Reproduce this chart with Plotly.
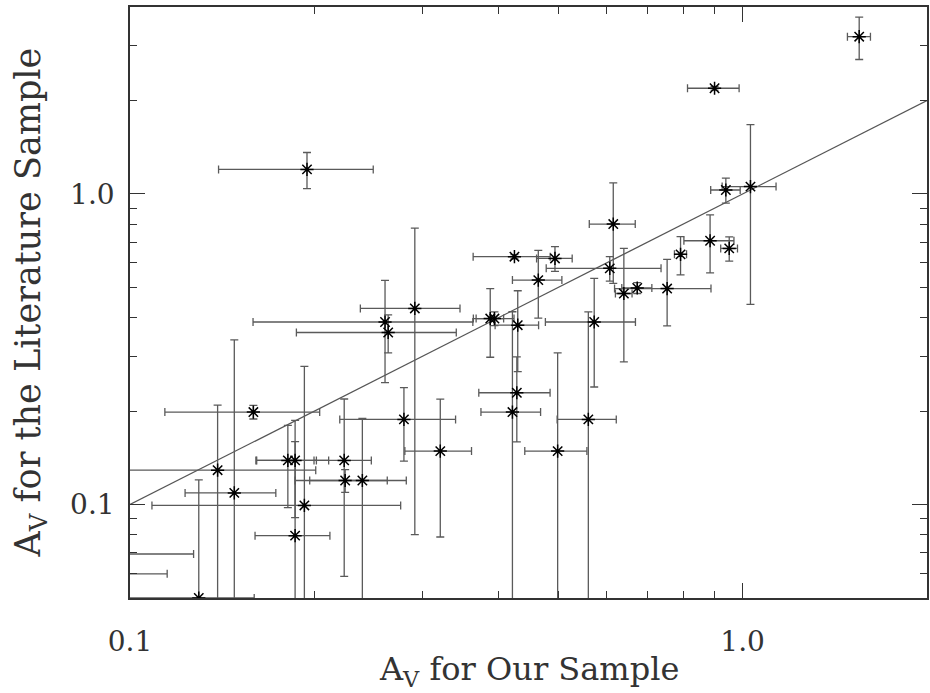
import plotly.graph_objects as go

# A_V for our sample (x) with uncertainties, and A_V from the literature (y)
av_ours = [1.55, 0.90, 0.1945, 1.03, 0.939, 0.951, 0.885, 0.792, 0.615, 0.607,
           0.640, 0.673, 0.753, 0.5725, 0.560, 0.499, 0.428, 0.421, 0.280, 0.321,
           0.159, 0.139, 0.148, 0.1295, 0.090, 0.080, 0.181, 0.186, 0.2237, 0.2245,
           0.2395, 0.1926, 0.186, 0.2608, 0.2917, 0.2639, 0.4295, 0.3873, 0.3935,
           0.4242, 0.494, 0.464]
err_ours = [0.067, 0.087, 0.055, 0.104, 0.052, 0.030, 0.083, 0.018, 0.053, 0.129,
            0.020, 0.038, 0.135, 0.096, 0.062, 0.058, 0.057, 0.047, 0.060, 0.040,
            0.045, 0.062, 0.025, 0.030, 0.037, 0.035, 0.0205, 0.025, 0.024, 0.0385,
            0.043, 0.084, 0.026, 0.102, 0.054, 0.077, 0.035, 0.020, 0.030,
            0.061, 0.033, 0.043]
av_lit = [3.21, 2.19, 1.20, 1.056, 1.03, 0.668, 0.707, 0.639, 0.80, 0.576,
          0.478, 0.498, 0.496, 0.387, 0.188, 0.1486, 0.229, 0.1985, 0.188, 0.1486,
          0.1985, 0.129, 0.109, 0.050, 0.0693, 0.0598, 0.1387, 0.1387, 0.1387, 0.1195,
          0.1195, 0.0993, 0.0794, 0.387, 0.428, 0.358, 0.378, 0.397, 0.397,
          0.628, 0.620, 0.528]
err_lit = [0.50, 0.03, 0.16, 0.615, 0.095, 0.060, 0.150, 0.090, 0.285, 0.052,
           0.190, 0.020, 0.120, 0.148, 0.229, 0.159, 0.070, 0.219, 0.050, 0.070,
           0.010, 0.080, 0.230, 0.070, 0.010, 0.010, 0.041, 0.048, 0.080, 0.010,
           0.070, 0.179, 0.080, 0.140, 0.348, 0.050, 0.110, 0.099, 0.020,
           0.010, 0.057, 0.130]

# one-to-one reference line
line_x = [0.1, 2.0]
line_y = [0.1, 2.0]

x_major = [0.1, 1.0]
x_major_text = ["0.1", "1.0"]
x_minor = [0.2, 0.3, 0.4, 0.5, 0.6, 0.7, 0.8, 0.9, 2.0]
y_major = [0.1, 1.0]
y_major_text = ["0.1", "1.0"]
y_minor = [0.05, 0.06, 0.07, 0.08, 0.09, 0.2, 0.3, 0.4, 0.5, 0.6, 0.7, 0.8, 0.9, 2.0, 3.0, 4.0]

INK = "#333333"
FONT = "DejaVu Serif"

fig = go.Figure()
fig.add_trace(go.Scatter(
    x=line_x, y=line_y, mode="lines",
    line=dict(color="#555555", width=1.3), showlegend=False, hoverinfo="skip"))
fig.add_trace(go.Scatter(
    x=av_ours, y=av_lit, mode="markers",
    marker=dict(symbol="asterisk-open", size=11, color="black",
                line=dict(color="black", width=1.5)),
    error_x=dict(type="data", array=err_ours, visible=True,
                 color="#5a5a5a", thickness=1.3, width=4),
    error_y=dict(type="data", array=err_lit, visible=True,
                 color="#5a5a5a", thickness=1.3, width=4),
    showlegend=False))

axis_common = dict(
    type="log", showgrid=False, zeroline=False,
    showline=True, linecolor=INK, linewidth=1.5, mirror="ticks",
    ticks="inside", ticklen=15, tickwidth=1.3, tickcolor=INK,
    tickmode="array",
    tickfont=dict(family=FONT, size=28, color=INK),
)

fig.update_xaxes(**axis_common, range=[-1, 0.30103],
                 tickvals=x_major, ticktext=x_major_text,
                 ticklabelstandoff=18,
                 minor=dict(ticks="inside", ticklen=7, tickwidth=1.2,
                            tickcolor=INK, tickvals=x_minor, showgrid=False))
fig.update_yaxes(**axis_common, range=[-1.30103, 0.60206],
                 tickvals=y_major, ticktext=y_major_text,
                 ticklabelstandoff=8,
                 minor=dict(ticks="inside", ticklen=7, tickwidth=1.2,
                            tickcolor=INK, tickvals=y_minor, showgrid=False))

fig.add_annotation(text="A<sub>V</sub> for Our Sample", xref="paper", yref="paper",
                   x=0.5, y=0, xanchor="center", yanchor="top", yshift=-50,
                   showarrow=False, font=dict(family=FONT, size=32, color=INK))
fig.add_annotation(text="A<sub>V</sub> for the Literature Sample", xref="paper", yref="paper",
                   x=0, y=0.5, xanchor="center", yanchor="middle", xshift=-100,
                   textangle=-90, showarrow=False,
                   font=dict(family=FONT, size=35, color=INK))

fig.update_layout(
    width=930, height=693,
    margin=dict(l=130, r=1, t=7, b=95),
    paper_bgcolor="white", plot_bgcolor="white",
)

fig.write_html("out.html")
